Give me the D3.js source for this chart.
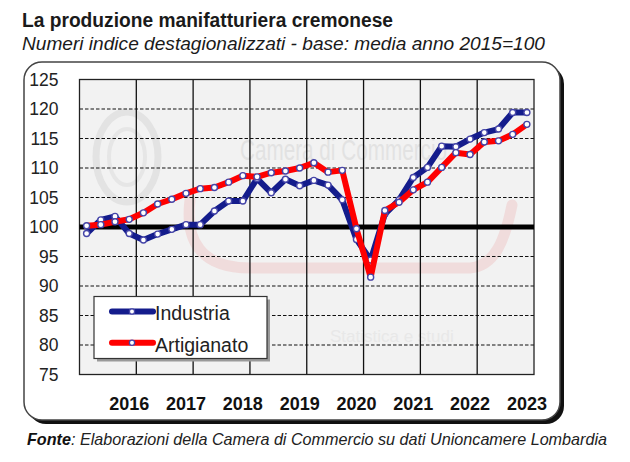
<!DOCTYPE html>
<html>
<head>
<meta charset="utf-8">
<script src="https://cdn.jsdelivr.net/npm/d3@7/dist/d3.min.js"></script>
<style>
  html, body { margin: 0; padding: 0; background: #ffffff; }
  svg { display: block; font-family: "Liberation Sans", Arial, sans-serif; }
</style>
</head>
<body>
<svg id="chart" width="630" height="462"></svg>
<script>
// ---- DATA ----
const quarters = [
  "2015-T2","2015-T3","2015-T4",
  "2016-T1","2016-T2","2016-T3","2016-T4",
  "2017-T1","2017-T2","2017-T3","2017-T4",
  "2018-T1","2018-T2","2018-T3","2018-T4",
  "2019-T1","2019-T2","2019-T3","2019-T4",
  "2020-T1","2020-T2","2020-T3","2020-T4",
  "2021-T1","2021-T2","2021-T3","2021-T4",
  "2022-T1","2022-T2","2022-T3","2022-T4",
  "2023-T1"
];
const industria = [98.9, 101.2, 101.8, 98.9, 97.8, 98.8, 99.6, 100.4,
                   100.4, 102.7, 104.4, 104.4, 108.2, 105.8, 108.1, 107.0,
                   107.9, 107.1, 104.6, 97.9, 94.4, 102.2, 104.6, 108.4,
                   110.1, 113.7, 113.6, 114.9, 116.0, 116.6, 119.4, 119.4];
const artigianato = [100.2, 100.4, 100.9, 101.3, 102.4, 103.9, 104.7, 105.7,
                     106.5, 106.7, 107.6, 108.7, 108.5, 109.2, 109.5, 110.0,
                     110.9, 109.3, 109.6, 99.7, 91.5, 102.8, 104.2, 106.3,
                     107.6, 110.1, 112.6, 112.3, 114.4, 114.6, 115.7, 117.4];
const seriesNames = ["Industria", "Artigianato"];
const yTicks = [75, 80, 85, 90, 95, 100, 105, 110, 115, 120, 125];
const yearTickQuarters = ["2016-T1","2017-T1","2018-T1","2019-T1","2020-T1","2021-T1","2022-T1","2023-T1"];
const yearLabels = ["2016","2017","2018","2019","2020","2021","2022","2023"];
const baseValue = 100;

// ---- LAYOUT ----
const svg = d3.select("#chart");
const P = { left: 79.5, right: 534, top: 79.5, bottom: 374.5 };
const BLUE = "#141c8c", RED = "#ff0000", MARK = "#4646a8";

const x = d3.scaleBand().domain(quarters).range([P.left, P.right]).padding(0);
const y = d3.scaleLinear().domain([75, 125]).range([P.bottom, P.top]);
const cx = d => x(d) + x.bandwidth() / 2;

// Titles
svg.append("text").attr("x", 22).attr("y", 27)
  .attr("font-size", 19.5).attr("font-weight", "bold").attr("fill", "#1a1a1a")
  .attr("textLength", 371).attr("lengthAdjust", "spacingAndGlyphs")
  .text("La produzione manifatturiera cremonese");
svg.append("text").attr("x", 22).attr("y", 50)
  .attr("font-size", 19).attr("font-style", "italic").attr("fill", "#1a1a1a")
  .attr("textLength", 523).attr("lengthAdjust", "spacingAndGlyphs")
  .text("Numeri indice destagionalizzati - base: media anno 2015=100");

// Frame with shadow
svg.append("rect").attr("x", 28).attr("y", 66).attr("width", 536).attr("height", 358)
  .attr("rx", 18).attr("fill", "#111");
svg.append("rect").attr("x", 24).attr("y", 62).attr("width", 536).attr("height", 358)
  .attr("rx", 18).attr("fill", "#ffffff").attr("stroke", "#444").attr("stroke-width", 1.5);

// Plot background
svg.append("rect").attr("x", P.left).attr("y", P.top)
  .attr("width", P.right - P.left).attr("height", P.bottom - P.top)
  .attr("fill", "#f2f2f2");

// Watermark (faint)
const wm = svg.append("g").attr("pointer-events", "none");
wm.append("ellipse").attr("cx", 127).attr("cy", 157).attr("rx", 31).attr("ry", 45)
  .attr("fill", "none").attr("stroke", "#e3e3e3").attr("stroke-width", 7);
wm.append("ellipse").attr("cx", 127).attr("cy", 157).attr("rx", 18).attr("ry", 28)
  .attr("fill", "none").attr("stroke", "#e6e6e6").attr("stroke-width", 4);
wm.append("path")
  .attr("d", "M190,200 C185,240 200,268 250,268 L470,268 C495,266 505,240 512,205")
  .attr("fill", "none").attr("stroke", "#f0dcdc").attr("stroke-width", 11)
  .attr("stroke-linecap", "round");
wm.append("text").attr("x", 240).attr("y", 160).attr("font-size", 30)
  .attr("fill", "#e2e2e2").attr("textLength", 207).attr("lengthAdjust", "spacingAndGlyphs")
  .text("Camera di Commercio");
wm.append("text").attr("x", 330).attr("y", 342).attr("font-size", 17)
  .attr("fill", "#e8e8e8").text("Statistica e studi");

// Horizontal dashed gridlines
svg.append("g").selectAll("line")
  .data(yTicks.filter(v => v > 75 && v < 125 && v !== baseValue))
  .join("line")
  .attr("x1", P.left).attr("x2", P.right)
  .attr("y1", d => y(d)).attr("y2", d => y(d))
  .attr("stroke", "#111").attr("stroke-width", 1).attr("stroke-dasharray", "3.5,2");

// Vertical year gridlines (between categories)
svg.append("g").selectAll("line")
  .data(quarters.filter((q, i) => i > 0 && (i % 4) === 0))
  .join("line")
  .attr("x1", d => x(d)).attr("x2", d => x(d))
  .attr("y1", P.top).attr("y2", P.bottom)
  .attr("stroke", "#111").attr("stroke-width", 1.3);

// Plot border
svg.append("rect").attr("x", P.left).attr("y", P.top)
  .attr("width", P.right - P.left).attr("height", P.bottom - P.top)
  .attr("fill", "none").attr("stroke", "#222").attr("stroke-width", 1.3);

// Base line at 100
svg.append("line").attr("x1", P.left).attr("x2", P.right)
  .attr("y1", y(baseValue)).attr("y2", y(baseValue))
  .attr("stroke", "#000").attr("stroke-width", 5);

// Axes
const yAxis = svg.append("g").attr("transform", `translate(${P.left},0)`)
  .call(d3.axisLeft(y).tickValues(yTicks).tickSize(0).tickPadding(21));
yAxis.select(".domain").remove();
yAxis.selectAll("text").attr("font-size", 17.5).attr("fill", "#222")
  .attr("font-family", "Liberation Sans, Arial, sans-serif");

const xAxis = svg.append("g").attr("transform", `translate(0,${P.bottom})`)
  .call(d3.axisBottom(x).tickValues(yearTickQuarters).tickSize(0).tickPadding(23)
    .tickFormat(d => yearLabels[yearTickQuarters.indexOf(d)]));
xAxis.select(".domain").remove();
xAxis.selectAll("text").attr("font-size", 18).attr("font-weight", "bold").attr("fill", "#111")
  .attr("font-family", "Liberation Sans, Arial, sans-serif");

// Series
const line = d3.line().x((d, i) => cx(quarters[i])).y(d => y(d));
function drawSeries(values, color) {
  svg.append("path").datum(values).attr("d", line)
    .attr("fill", "none").attr("stroke", color).attr("stroke-width", 6)
    .attr("stroke-linejoin", "round").attr("stroke-linecap", "round");
  svg.append("g").selectAll("circle").data(values).join("circle")
    .attr("cx", (d, i) => cx(quarters[i])).attr("cy", d => y(d)).attr("r", 3)
    .attr("fill", "#fff").attr("stroke", MARK).attr("stroke-width", 1.4);
}
drawSeries(industria, BLUE);
drawSeries(artigianato, RED);

// Legend
const lg = svg.append("g");
lg.append("rect").attr("x", 97).attr("y", 299.5).attr("width", 173).attr("height", 62)
  .attr("fill", "#9a9a9a");
lg.append("rect").attr("x", 94).attr("y", 296.5).attr("width", 173).attr("height", 62)
  .attr("fill", "#fff").attr("stroke", "#333").attr("stroke-width", 1.2);
const legendItems = [
  { name: seriesNames[0], color: BLUE, ly: 311.5 },
  { name: seriesNames[1], color: RED, ly: 342.7 }
];
legendItems.forEach(it => {
  lg.append("line").attr("x1", 112).attr("x2", 153).attr("y1", it.ly).attr("y2", it.ly)
    .attr("stroke", it.color).attr("stroke-width", 6).attr("stroke-linecap", "round");
  lg.append("circle").attr("cx", 132).attr("cy", it.ly).attr("r", 2.6)
    .attr("fill", "#fff").attr("stroke", MARK).attr("stroke-width", 1.3);
  lg.append("text").attr("x", 155).attr("y", it.ly + 8.8).attr("font-size", 19.5)
    .attr("fill", "#222").text(it.name);
});

// Footer
const ft = svg.append("text").attr("x", 27).attr("y", 445).attr("font-size", 16.5)
  .attr("font-style", "italic").attr("fill", "#222")
  .attr("textLength", 580).attr("lengthAdjust", "spacingAndGlyphs");
ft.append("tspan").attr("font-weight", "bold").attr("fill", "#111").text("Fonte");
ft.append("tspan").text(": Elaborazioni della Camera di Commercio su dati Unioncamere Lombardia");
</script>
</body>
</html>
